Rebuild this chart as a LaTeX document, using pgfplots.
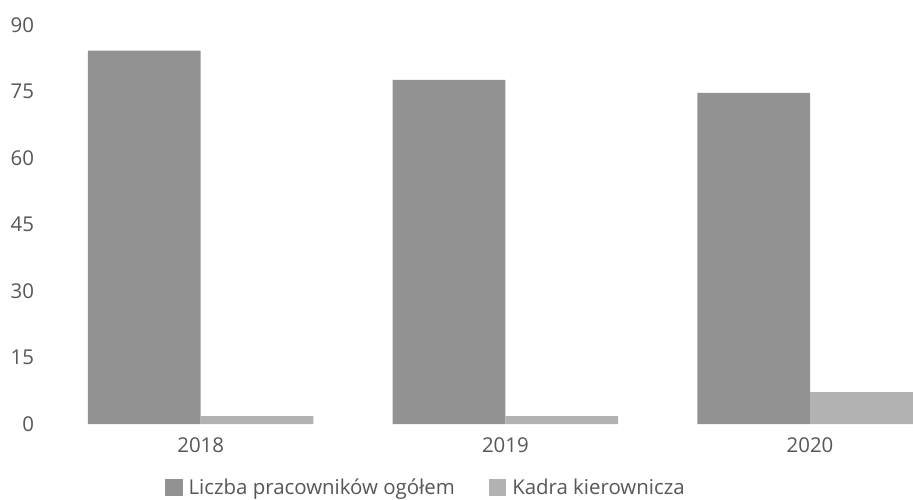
\documentclass[border=0pt]{standalone}
\usepackage{pgfplots}
\pgfplotsset{compat=1.18}
\usepackage{fontspec}
\setmainfont{Open Sans}
\definecolor{txt}{HTML}{575757}
\definecolor{barA}{HTML}{929292}
\definecolor{barB}{HTML}{B2B2B2}
\begin{document}
\fontsize{20.5}{24}\selectfont
\begin{tikzpicture}
\begin{axis}[
  scale only axis,
  width=850bp, height=399bp,
  ybar=0pt, bar width=0.37,
  xmin=-0.452, xmax=2.338,
  ymin=0, ymax=90,
  ytick={0,15,30,45,60,75,90},
  xtick={0,1,2}, xticklabels={2018,2019,2020},
  axis line style={draw=none},
  major tick length=0pt,
  tick style={draw=none},
  /pgf/number format/assume math mode=true,
  ticklabel style={text=txt, font=\fontsize{20.5}{24}\selectfont},
  yticklabel style={xshift=-22bp},
  xticklabel style={yshift=-7bp},
  legend style={draw=none, at={(0.427,-0.160)}, anchor=center,
    legend columns=2, font=\fontsize{20.5}{24}\selectfont, text=txt,
    /tikz/every odd column/.append style={column sep=4bp},
    /tikz/every even column/.append style={column sep=32bp}},
  legend image code/.code={\fill[#1] (0,-0.40em) rectangle (0.85em,0.45em);},
  clip=true,
]
\addplot[draw=none, fill=barA]
  coordinates {(0,84.2) (1,77.6) (2,74.7)};
\addplot[draw=none, fill=barB]
  coordinates {(0,1.8) (1,1.8) (2,7.2)};
\legend{Liczba pracowników ogółem, Kadra kierownicza}
\coordinate (O) at (rel axis cs:0,0);
\end{axis}
\pgfresetboundingbox
\path[use as bounding box] ([xshift=-63bp,yshift=-76bp]O) rectangle ([xshift=850bp,yshift=424bp]O);
\end{tikzpicture}
\end{document}
